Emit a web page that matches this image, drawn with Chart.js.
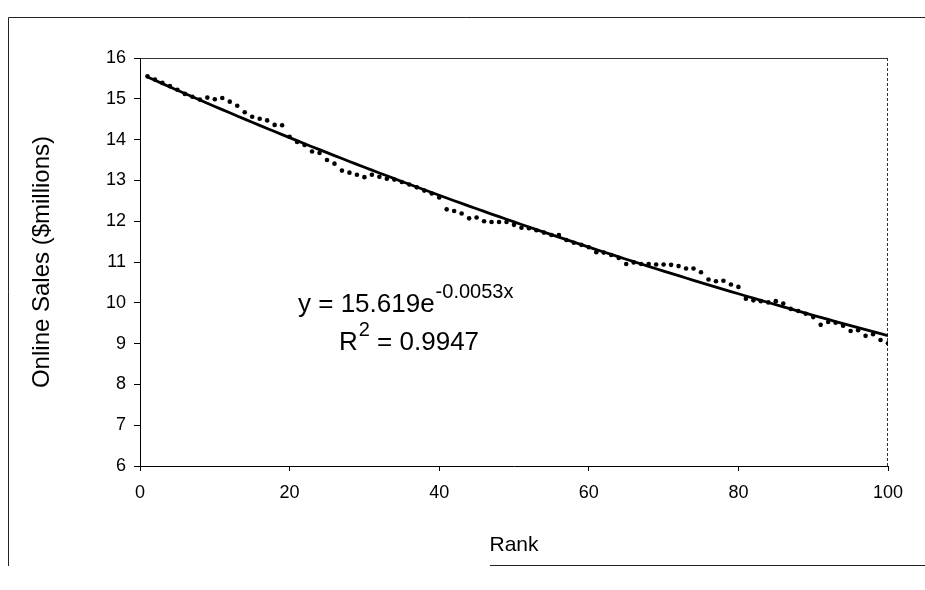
<!DOCTYPE html>
<html>
<head>
<meta charset="utf-8">
<script src="https://cdn.jsdelivr.net/npm/chart.js@4"></script>
<style>
  html, body { margin: 0; padding: 0; background: #fff; }
  #wrap { width: 925px; height: 590px; }
</style>
</head>
<body>
<div id="wrap"><canvas id="salesChart" width="925" height="590"></canvas></div>
<script>
// rank of each store (x) and its online sales in $millions (y)
const ranks = [
  1, 2, 3, 4, 5, 6, 7, 8, 9, 10,
  11, 12, 13, 14, 15, 16, 17, 18, 19, 20,
  21, 22, 23, 24, 25, 26, 27, 28, 29, 30,
  31, 32, 33, 34, 35, 36, 37, 38, 39, 40,
  41, 42, 43, 44, 45, 46, 47, 48, 49, 50,
  51, 52, 53, 54, 55, 56, 57, 58, 59, 60,
  61, 62, 63, 64, 65, 66, 67, 68, 69, 70,
  71, 72, 73, 74, 75, 76, 77, 78, 79, 80,
  81, 82, 83, 84, 85, 86, 87, 88, 89, 90,
  91, 92, 93, 94, 95, 96, 97, 98, 99, 100
];
const sales = [
  15.55, 15.47, 15.39, 15.31, 15.22, 15.12, 15.05, 14.98, 15.03, 14.99,
  15.02, 14.93, 14.83, 14.67, 14.56, 14.51, 14.47, 14.36, 14.35, 14.07,
  13.94, 13.87, 13.71, 13.67, 13.50, 13.41, 13.24, 13.19, 13.14, 13.08,
  13.14, 13.09, 13.04, 13.02, 12.96, 12.90, 12.83, 12.75, 12.68, 12.58,
  12.29, 12.25, 12.19, 12.07, 12.09, 12.00, 11.98, 11.98, 11.98, 11.91,
  11.84, 11.83, 11.78, 11.72, 11.66, 11.66, 11.54, 11.47, 11.42, 11.36,
  11.24, 11.23, 11.17, 11.10, 10.95, 10.99, 10.95, 10.95, 10.94, 10.94,
  10.93, 10.90, 10.84, 10.84, 10.75, 10.57, 10.53, 10.54, 10.45, 10.39,
  10.10, 10.06, 10.04, 10.01, 10.04, 9.98, 9.85, 9.80, 9.73, 9.65,
  9.46, 9.53, 9.51, 9.44, 9.31, 9.33, 9.19, 9.23, 9.09, 9.01
];
const xTicks = [0, 20, 40, 60, 80, 100];
const yTicks = [6, 7, 8, 9, 10, 11, 12, 13, 14, 15, 16];

// exponential trendline shown on the chart: y = 15.619 e^(-0.0053x), R^2 = 0.9947
const trendCoef = 15.619;
const trendRate = -0.0053;
const trendR2 = "0.9947";

const points = ranks.map((r, i) => ({ x: r, y: sales[i] }));
const trendPoints = ranks.map(r => ({ x: r, y: trendCoef * Math.exp(trendRate * r) }));

const FONT = "'Liberation Sans', Arial, sans-serif";

// frame round the whole chart and the plot area border (top + right)
const framePlugin = {
  id: "frame",
  beforeDraw(chart) {
    const ctx = chart.ctx;
    const a = chart.chartArea;
    ctx.save();
    ctx.strokeStyle = "#222";
    ctx.lineWidth = 1;
    ctx.beginPath();
    ctx.moveTo(8.5, 566);
    ctx.lineTo(8.5, 17.5);
    ctx.lineTo(925, 17.5);
    ctx.moveTo(490, 565.5);
    ctx.lineTo(925, 565.5);
    ctx.stroke();

    ctx.strokeStyle = "#333";
    ctx.beginPath();
    ctx.moveTo(a.left, a.top + 0.5);
    ctx.lineTo(a.right, a.top + 0.5);
    ctx.stroke();
    ctx.setLineDash([3, 2]);
    ctx.beginPath();
    ctx.moveTo(a.right - 0.5, a.top);
    ctx.lineTo(a.right - 0.5, a.bottom);
    ctx.stroke();
    ctx.restore();
  }
};

// the trendline equation text with its superscripts
const equationPlugin = {
  id: "equation",
  afterDatasetsDraw(chart) {
    const ctx = chart.ctx;
    ctx.save();
    ctx.fillStyle = "#000";
    ctx.textBaseline = "alphabetic";
    ctx.textAlign = "left";

    const big = "26px " + FONT;
    const small = "20px " + FONT;

    let x = 298, y = 312;
    ctx.font = big;
    const line1 = "y = " + trendCoef.toFixed(3) + "e";
    ctx.fillText(line1, x, y);
    x += ctx.measureText(line1).width + 1;
    ctx.font = small;
    ctx.fillText(trendRate.toFixed(4) + "x", x, y - 14);

    x = 339; y = 350;
    ctx.font = big;
    ctx.fillText("R", x, y);
    x += ctx.measureText("R").width + 1;
    ctx.font = small;
    ctx.fillText("2", x, y - 14);
    x += ctx.measureText("2").width;
    ctx.font = big;
    ctx.fillText(" = " + trendR2, x, y);
    ctx.restore();
  }
};

const ctx = document.getElementById("salesChart").getContext("2d");
new Chart(ctx, {
  type: "scatter",
  data: {
    datasets: [
      {
        label: "Online sales",
        data: points,
        pointRadius: 2.3,
        pointHoverRadius: 2.3,
        pointBackgroundColor: "#000",
        pointBorderWidth: 0,
        order: 2
      },
      {
        type: "line",
        label: "Expon. trend",
        data: trendPoints,
        borderColor: "#000",
        borderWidth: 2.8,
        pointRadius: 0,
        fill: false,
        tension: 0,
        order: 1
      }
    ]
  },
  options: {
    responsive: false,
    animation: false,
    devicePixelRatio: 1,
    layout: { padding: { top: 58, right: 37, left: 20, bottom: 20 } },
    plugins: {
      legend: { display: false },
      tooltip: { enabled: false }
    },
    scales: {
      x: {
        type: "linear",
        min: xTicks[0],
        max: xTicks[xTicks.length - 1],
        afterBuildTicks: s => { s.ticks = xTicks.map(v => ({ value: v })); },
        afterFit: s => { s.height = 104; },
        border: { display: true, color: "#000", width: 1 },
        grid: { drawOnChartArea: false, drawTicks: true, tickLength: 5, color: "#000" },
        ticks: { color: "#000", padding: 11, font: { family: FONT, size: 18 }, maxRotation: 0 },
        title: {
          display: true,
          text: "Rank",
          color: "#000",
          font: { family: FONT, size: 21 },
          padding: { top: 0, bottom: 12 }
        }
      },
      y: {
        type: "linear",
        min: yTicks[0],
        max: yTicks[yTicks.length - 1],
        afterBuildTicks: s => { s.ticks = yTicks.map(v => ({ value: v })); },
        afterFit: s => { s.width = 120; },
        border: { display: true, color: "#000", width: 1 },
        grid: { drawOnChartArea: false, drawTicks: true, tickLength: 6, color: "#000" },
        ticks: { color: "#000", padding: 8, font: { family: FONT, size: 18 } },
        title: {
          display: true,
          text: "Online Sales ($millions)",
          color: "#000",
          font: { family: FONT, size: 24 },
          padding: { top: 8, bottom: 0 }
        }
      }
    }
  },
  plugins: [framePlugin, equationPlugin]
});
</script>
</body>
</html>
